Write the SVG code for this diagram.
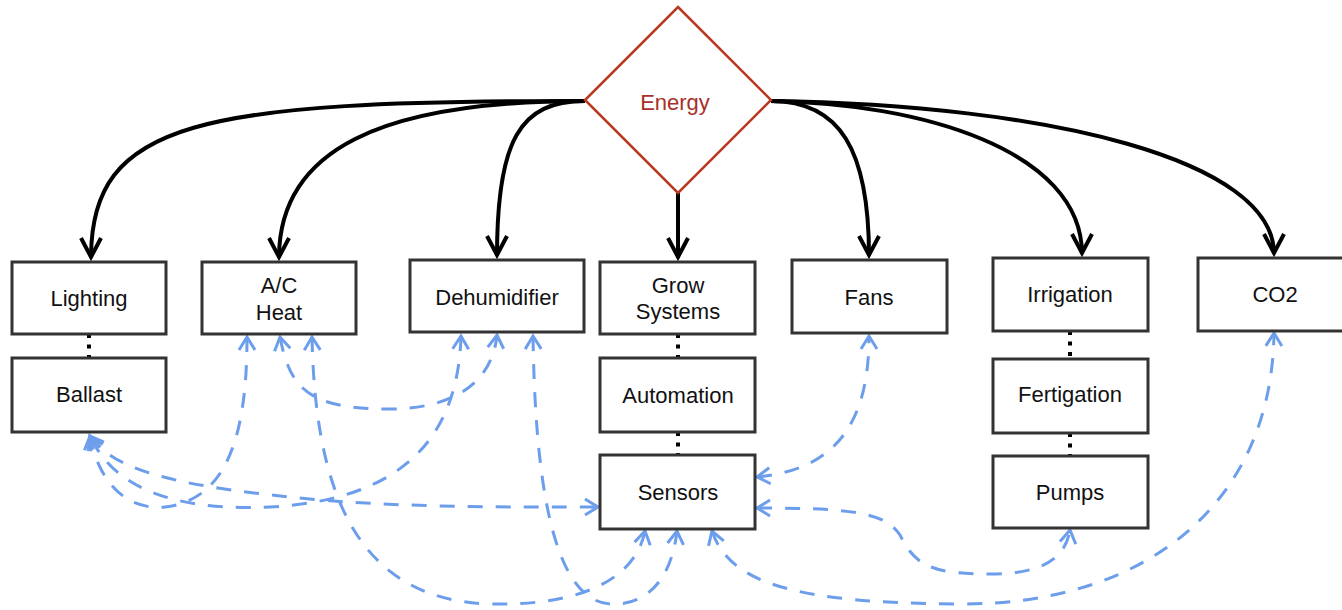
<svg xmlns="http://www.w3.org/2000/svg" width="1342" height="610" viewBox="0 0 1342 610">
<style>
.box{fill:#fff;stroke:#333;stroke-width:3}
.lbl{font-family:"Liberation Sans",Arial,sans-serif;font-size:22px;fill:#111;text-anchor:middle}
.main{fill:none;stroke:#000;stroke-width:4;marker-end:url(#ab)}
.dash{fill:none;stroke:#6d9eeb;stroke-width:3;stroke-dasharray:15 13;marker-start:url(#bb);marker-end:url(#bb)}
.dot{fill:none;stroke:#000;stroke-width:4;stroke-dasharray:4 6.5}
</style>
<defs>
<marker id="ab" markerUnits="userSpaceOnUse" viewBox="-24 -14 28 28" markerWidth="28" markerHeight="28" refX="1" refY="0" orient="auto">
<path d="M-19,-10 L0,0 L-19,10" fill="none" stroke="#000" stroke-width="4"/>
</marker>
<marker id="bb" markerUnits="userSpaceOnUse" viewBox="-18 -12 22 24" markerWidth="22" markerHeight="24" refX="0" refY="0" orient="auto-start-reverse">
<path d="M-13,-8 L0,0 L-13,8" fill="none" stroke="#6d9eeb" stroke-width="3"/>
</marker>
</defs>
<rect width="1342" height="610" fill="#fff"/>
<g id="connectors">
<path class="main" d="M585,101 C200,101 91,120 91,258"/>
<path class="main" d="M585,101 C380,101 279,150 279,258"/>
<path class="main" d="M585,101 C520,101 497,140 497,256"/>
<path class="main" d="M678,193 L678,258"/>
<path class="main" d="M771,101 C840,101 869,150 869,256"/>
<path class="main" d="M771,101 C920,103 1082,150 1082,254"/>
<path class="main" d="M771,101 C1050,105 1274,160 1274,254"/>
<path class="dot" d="M89,334 L89,358"/>
<path class="dot" d="M678,334 L678,358"/>
<path class="dot" d="M678,432 L678,455"/>
<path class="dot" d="M1070,331 L1070,359"/>
<path class="dot" d="M1070,433 L1070,456"/>
<path class="dash" d="M90,436 C115,472 180,487 320,500 C420,508 520,507 598,507"/>
<path class="dash" d="M247,337 C247,440 225,500 165,507 C125,511 98,480 90,436"/>
<path class="dash" d="M461,336 C458,440 400,500 270,507 C160,512 110,480 90,436"/>
<path class="dash" d="M280,337 C290,390 310,408 385,409 C450,410 492,385 497,335"/>
<path class="dash" d="M312,337 C315,480 350,600 490,604 C580,606 635,580 645,531"/>
<path class="dash" d="M533,336 C535,470 550,600 610,604 C650,606 672,575 677,531"/>
<path class="dash" d="M757,477 C830,470 869,430 869,336"/>
<path class="dash" d="M757,508 C850,508 885,512 900,535 C915,565 930,574 990,574 C1040,574 1065,560 1070,530"/>
<path class="dash" d="M712,531 C730,585 800,603 960,604 C1150,605 1272,500 1274,333"/>
</g>
<g id="energy">
<polygon points="678,7 771,100 678,193 585,100" fill="#fff" stroke="#b8391f" stroke-width="2.5"/>
<text x="675" y="110" class="lbl" style="fill:#a8302a">Energy</text>
</g>
<g id="lighting"><rect class="box" x="12" y="262" width="154" height="72"/><text class="lbl" x="89" y="306">Lighting</text></g>
<g id="ballast"><rect class="box" x="12" y="358" width="154" height="74"/><text class="lbl" x="89" y="402">Ballast</text></g>
<g id="acheat"><rect class="box" x="202" y="262" width="154" height="72"/><text class="lbl" x="279" y="293">A/C</text><text class="lbl" x="279" y="320">Heat</text></g>
<g id="dehumidifier"><rect class="box" x="410" y="260" width="174" height="72"/><text class="lbl" x="497" y="305">Dehumidifier</text></g>
<g id="grow"><rect class="box" x="600" y="262" width="155" height="72"/><text class="lbl" x="678" y="293">Grow</text><text class="lbl" x="678" y="319">Systems</text></g>
<g id="automation"><rect class="box" x="600" y="358" width="155" height="74"/><text class="lbl" x="678" y="403">Automation</text></g>
<g id="sensors"><rect class="box" x="600" y="455" width="155" height="74"/><text class="lbl" x="678" y="500">Sensors</text></g>
<g id="fans"><rect class="box" x="792" y="260" width="155" height="73"/><text class="lbl" x="869" y="305">Fans</text></g>
<g id="irrigation"><rect class="box" x="993" y="258" width="155" height="73"/><text class="lbl" x="1070" y="302">Irrigation</text></g>
<g id="fertigation"><rect class="box" x="993" y="359" width="155" height="74"/><text class="lbl" x="1070" y="402">Fertigation</text></g>
<g id="pumps"><rect class="box" x="993" y="456" width="155" height="72"/><text class="lbl" x="1070" y="500">Pumps</text></g>
<g id="co2"><rect class="box" x="1198" y="258" width="155" height="73"/><text class="lbl" x="1275" y="302">CO2</text></g>
</svg>
